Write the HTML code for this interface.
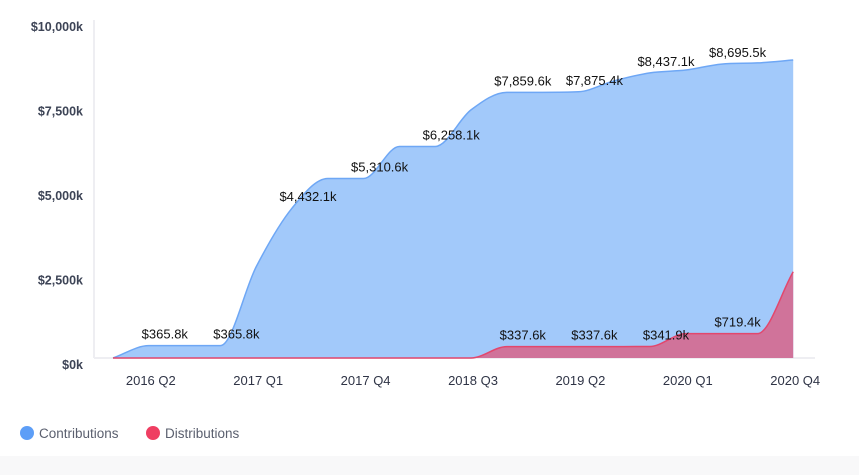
<!DOCTYPE html>
<html><head><meta charset="utf-8"><style>
html,body{margin:0;padding:0;background:#fff;width:859px;height:475px;overflow:hidden;font-family:"Liberation Sans",sans-serif;}
</style></head><body>
<svg width="859" height="475" xmlns="http://www.w3.org/2000/svg">
<rect x="0" y="456" width="859" height="19" fill="#f8f8f9"/>
<line x1="94" y1="20" x2="94" y2="358" stroke="#eeeef2" stroke-width="2"/>
<line x1="94" y1="358" x2="815" y2="358" stroke="#eeeef2" stroke-width="2"/>
<g id="yticks"></g><g id="xticks"></g><g id="areas"></g><g id="labels"></g>
<g>
<g><circle cx="27" cy="433" r="7" fill="#5d9ef7"/><text x="39" y="438" font-size="13.5" fill="#5a5f6e">Contributions</text></g>
<g><circle cx="153" cy="433" r="7" fill="#ef3e62"/><text x="165" y="438" font-size="13.5" fill="#5a5f6e">Distributions</text></g>
</g>
</svg>
<script>
const quarters=["2016 Q1","2016 Q2","2016 Q3","2016 Q4","2017 Q1","2017 Q2","2017 Q3","2017 Q4","2018 Q1","2018 Q2","2018 Q3","2018 Q4","2019 Q1","2019 Q2","2019 Q3","2019 Q4","2020 Q1","2020 Q2","2020 Q3","2020 Q4"];
const contributions=[0,365.8,365.8,365.8,2700,4432.1,5310.6,5310.6,6258.1,6258.1,7340,7859.6,7859.6,7875.4,8200,8437.1,8520,8695.5,8730,8815];
const distributions=[0,0,0,0,0,0,0,0,0,0,0,337.6,337.6,337.6,337.6,341.9,719.4,719.4,719.4,2550];
const yTicks=[0,2500,5000,7500,10000];
const yTickLabels=["$0k","$2,500k","$5,000k","$7,500k","$10,000k"];
const xTickIdx=[1,4,7,10,13,16,19];
const labelIdx=[1,3,5,7,9,11,13,15,17];
const distLabelIdx=[11,13,15,17];

const NS="http://www.w3.org/2000/svg";
function xS(i){return 113+i*35.8;}
function yS(v){return 358-v*0.0338;}
function mk(tag,attrs,parent,txt){const e=document.createElementNS(NS,tag);for(const k in attrs)e.setAttribute(k,attrs[k]);if(txt!==undefined)e.textContent=txt;parent.appendChild(e);return e;}
function fmt(v){return "$"+v.toLocaleString("en-US",{minimumFractionDigits:1,maximumFractionDigits:1})+"k";}
function monotone(pts){
  const n=pts.length,d=[],m=[];
  for(let i=0;i<n-1;i++)d.push((pts[i+1][1]-pts[i][1])/(pts[i+1][0]-pts[i][0]));
  for(let i=0;i<n;i++){
    if(i===0)m.push(d[0]);else if(i===n-1)m.push(d[n-2]);
    else m.push(d[i-1]*d[i]<=0?0:(d[i-1]+d[i])/2);
  }
  for(let i=0;i<n-1;i++){
    if(d[i]===0){m[i]=0;m[i+1]=0;continue;}
    const a=m[i]/d[i],b=m[i+1]/d[i],s=a*a+b*b;
    if(s>9){const t=3/Math.sqrt(s);m[i]=t*a*d[i];m[i+1]=t*b*d[i];}
  }
  let p="M"+pts[0][0]+","+pts[0][1];
  for(let i=0;i<n-1;i++){
    const h=(pts[i+1][0]-pts[i][0])/3;
    p+=" C"+(pts[i][0]+h)+","+(pts[i][1]+m[i]*h)+" "+(pts[i+1][0]-h)+","+(pts[i+1][1]-m[i+1]*h)+" "+pts[i+1][0]+","+pts[i+1][1];
  }
  return p;
}
const yt=document.getElementById("yticks");
yTicks.forEach((v,i)=>{
  const t=mk("text",{x:83,y:yS(v)+11,"text-anchor":"end","font-size":"12.5","font-weight":"bold",fill:"#3d4456"},yt,yTickLabels[i]);
  
  
});
const xt=document.getElementById("xticks");
xTickIdx.forEach(i=>{
  const t=mk("text",{x:xS(i)+2,y:385,"text-anchor":"middle","font-size":"13",fill:"#2f3446"},xt,quarters[i]);
  
  
});
const ar=document.getElementById("areas");
function area(vals,fill,stroke,name){
  const pts=vals.map((v,i)=>[xS(i),yS(v)]);
  const line=monotone(pts);
  const a=mk("path",{d:line+" L"+xS(vals.length-1)+","+yS(0)+" L"+xS(0)+","+yS(0)+" Z",fill:fill},ar);
  
  
  const l=mk("path",{d:line,fill:"none",stroke:stroke,"stroke-width":"1.5"},ar);
  
  
}
area(contributions,"#a2c9fa","#6ea7f5","contributions");
area(distributions,"#d0739a","#e2476d","distributions");
const lb=document.getElementById("labels");
labelIdx.forEach(i=>{
  const t=mk("text",{x:xS(i)+16,y:yS(contributions[i])-7,"text-anchor":"middle","font-size":"13",fill:"#111"},lb,fmt(contributions[i]));
  
  
});
distLabelIdx.forEach(i=>{
  const t=mk("text",{x:xS(i)+16,y:yS(distributions[i])-7,"text-anchor":"middle","font-size":"13",fill:"#111"},lb,fmt(distributions[i]));
  
  
});
</script>
</body></html>
